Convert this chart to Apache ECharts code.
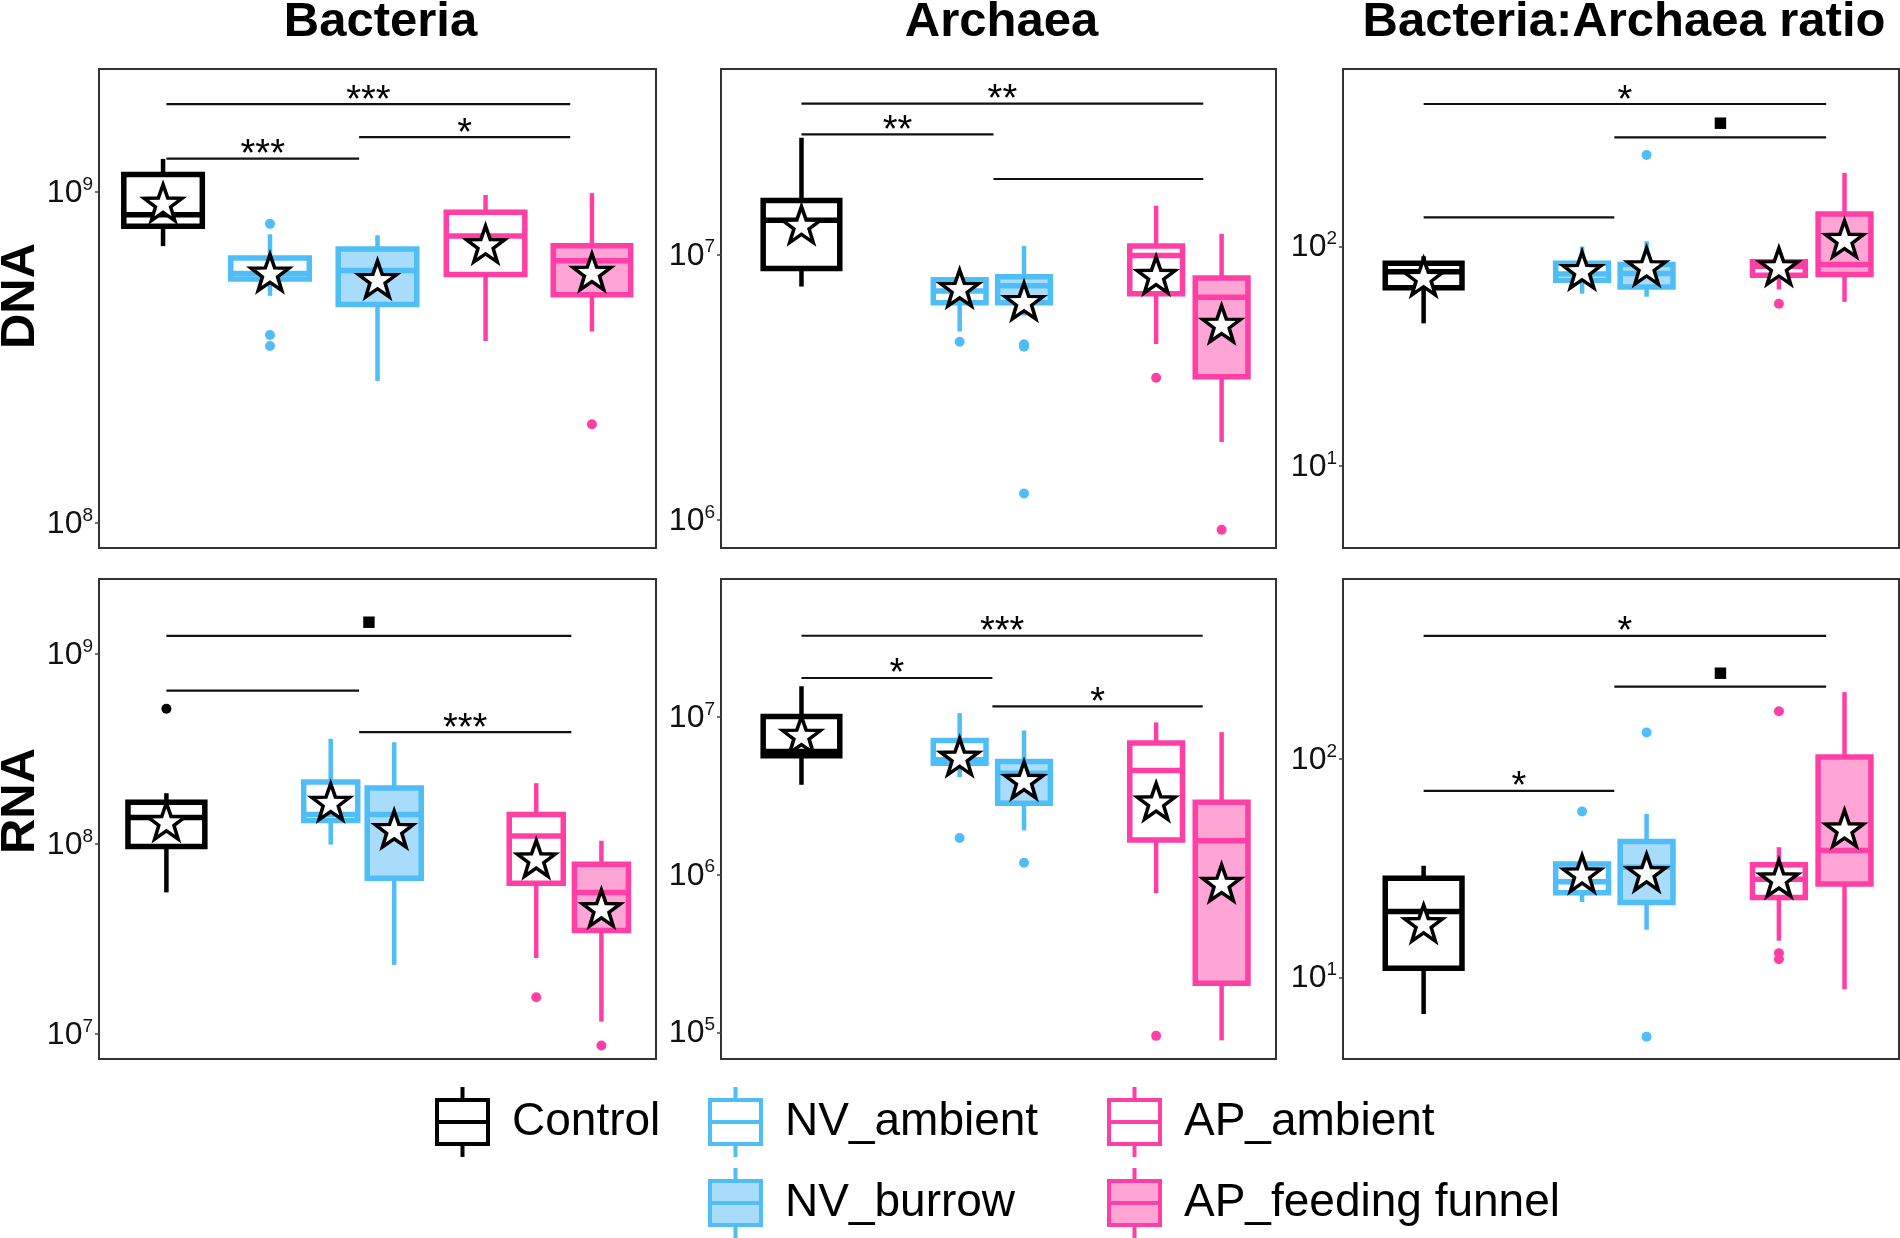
<!DOCTYPE html>
<html><head><meta charset="utf-8">
<script src="https://cdn.jsdelivr.net/npm/echarts@6/dist/echarts.min.js"></script>
<style>html,body{margin:0;padding:0;background:#fff;}#chart{width:1900px;height:1238px;}</style>
</head><body><div id="chart"></div>
<script>
// ---------------- DATA ----------------
const groups = ['Control', 'NV_ambient', 'NV_burrow', 'AP_ambient', 'AP_feeding funnel'];
const panelTitles = ['Bacteria', 'Archaea', 'Bacteria:Archaea ratio'];
const rowLabels = ['DNA', 'RNA'];

// box stats per group: [lower whisker, Q1, median, Q3, upper whisker]
const bacteriaDNA = [
  [6.87e8, 7.89e8, 8.55e8, 1.13e9, 1.26e9],
  [4.86e8, 5.47e8, 5.68e8, 6.33e8, 7.46e8],
  [2.69e8, 4.58e8, 5.80e8, 6.73e8, 7.41e8],
  [3.55e8, 5.64e8, 7.37e8, 8.70e8, 9.80e8],
  [3.79e8, 4.90e8, 6.20e8, 6.89e8, 9.93e8]
];
const bacteriaDNAMean = [9.3e8, 5.72e8, 5.47e8, 6.97e8, 5.75e8];
const bacteriaDNAOutliers = [[1, 8.02e8], [1, 3.70e8], [1, 3.43e8], [4, 1.99e8]];
const bacteriaDNASig = [[0.121, 0.846, 1.845e9], [0.467, 0.846, 1.466e9], [0.121, 0.467, 1.262e9]];
const bacteriaDNASigLabels = ['***', '*', '***'];

const archaeaDNA = [
  [7.59e6, 8.87e6, 1.35e7, 1.60e7, 2.76e7],
  [5.14e6, 6.59e6, 7.30e6, 8.05e6, 8.4e6],
  [5.9e6, 6.59e6, 7.64e6, 8.26e6, 1.08e7],
  [4.61e6, 7.13e6, 9.94e6, 1.08e7, 1.53e7],
  [1.97e6, 3.47e6, 6.92e6, 8.18e6, 1.20e7]
];
const archaeaDNAMean = [1.30e7, 7.5e6, 6.7e6, 8.4e6, 5.5e6];
const archaeaDNAOutliers = [[1, 4.70e6], [2, 4.6e6], [2, 4.5e6], [2, 1.26e6], [3, 3.44e6], [4, 9.2e5]];
const archaeaDNASig = [[0.145, 0.869, 3.71e7], [0.145, 0.491, 2.84e7], [0.491, 0.869, 1.93e7]];
const archaeaDNASigLabels = ['**', '**', ''];

const ratioDNA = [
  [44.7, 65.0, 76.9, 83.9, 90.4],
  [61.0, 70.2, 75.0, 83.9, 100],
  [59.1, 65.5, 75.5, 82.9, 105.8],
  [63.8, 74.1, 81.5, 85.4, 91],
  [56.0, 74.7, 83, 141, 217]
];
const ratioDNAMean = [72.8, 78.3, 81.5, 81.5, 108.6];
const ratioDNAOutliers = [[2, 261.6], [3, 54.9]];
const ratioDNASig = [[0.145, 0.869, 447], [0.488, 0.869, 315], [0.145, 0.488, 136]];
const ratioDNASigLabels = ['*', '■', ''];

const bacteriaRNA = [
  [5.56e7, 9.71e7, 1.38e8, 1.66e8, 1.85e8],
  [9.92e7, 1.33e8, 1.43e8, 2.12e8, 3.58e8],
  [2.31e7, 6.61e7, 1.43e8, 1.97e8, 3.43e8],
  [2.51e7, 6.22e7, 1.10e8, 1.43e8, 2.09e8],
  [1.16e7, 3.50e7, 5.56e7, 7.83e7, 1.04e8]
];
const bacteriaRNAMean = [1.32e8, 1.67e8, 1.20e8, 8.4e7, 4.6e7];
const bacteriaRNAOutliers = [[0, 5.15e8], [3, 1.56e7], [4, 8.7e6]];
const bacteriaRNASig = [[0.121, 0.848, 1.245e9], [0.121, 0.467, 6.41e8], [0.467, 0.848, 3.88e8]];
const bacteriaRNASigLabels = ['■', '', '***'];

const archaeaRNA = [
  [3.72e6, 5.68e6, 6.05e6, 1.01e7, 1.57e7],
  [4.16e6, 5.1e6, 5.36e6, 7.11e6, 1.06e7],
  [1.91e6, 2.84e6, 4.41e6, 5.23e6, 8.23e6],
  [7.63e5, 1.66e6, 4.58e6, 6.84e6, 9.25e6],
  [8.9e4, 2.05e5, 1.64e6, 2.88e6, 8.03e6]
];
const archaeaRNAMean = [7.73e6, 5.62e6, 4.0e6, 2.92e6, 8.9e5];
const archaeaRNAOutliers = [[1, 1.71e6], [2, 1.19e6], [3, 9.5e4]];
const archaeaRNASig = [[0.145, 0.868, 3.28e7], [0.145, 0.489, 1.77e7], [0.489, 0.868, 1.17e7]];
const archaeaRNASigLabels = ['***', '*', '*'];

const ratioRNA = [
  [6.79, 11.0, 20.0, 28.4, 32.4],
  [22.1, 24.4, 27.4, 33.0, 35.7],
  [16.5, 22.0, 31.9, 41.8, 56.0],
  [14.7, 23.2, 28.1, 32.7, 39.4],
  [8.81, 26.7, 38.0, 101.8, 202]
];
const ratioRNAMean = [17.7, 29.9, 30.3, 28.4, 48.1];
const ratioRNAOutliers = [[1, 57.4], [2, 132], [2, 5.35], [3, 165], [3, 12.9], [3, 12.1]];
const ratioRNASig = [[0.145, 0.869, 365], [0.488, 0.869, 214], [0.145, 0.488, 71.3]];
const ratioRNASigLabels = ['*', '■', '*'];

// tick values and axis ranges (log10 exponents)
const ticksBacteriaDNA = [1e8, 1e9];
const ticksArchaeaDNA = [1e6, 1e7];
const ticksRatioDNA = [1e1, 1e2];
const ticksBacteriaRNA = [1e7, 1e8, 1e9];
const ticksArchaeaRNA = [1e5, 1e6, 1e7];
const ticksRatioRNA = [1e1, 1e2];
const rangeBacteriaDNA = [7.925, 9.372];
const rangeArchaeaDNA = [5.895, 7.700];
const rangeRatioDNA = [0.626, 2.810];
const rangeBacteriaRNA = [6.868, 9.395];
const rangeArchaeaRNA = [4.831, 7.876];
const rangeRatioRNA = [0.626, 2.823];

// ---------------- LAYOUT / STYLE ----------------
const FONT = "'Liberation Sans', Arial, Helvetica, sans-serif";
const colors = ['#000000', '#4fbdf6', '#4fbdf6', '#ff3fa6', '#ff3fa6'];
const fills = ['#ffffff', '#ffffff', '#a9dcfa', '#ffffff', '#ffa5d5'];
const posA = [0.115, 0.307, 0.5, 0.694, 0.885];
const widA = [0.141, 0.141, 0.141, 0.141, 0.139];
const posB = [0.145, 0.430, 0.546, 0.784, 0.902];
const widB = [0.138, 0.095, 0.095, 0.095, 0.095];
const posC = [0.121, 0.416, 0.530, 0.785, 0.902];
const widC = [0.138, 0.097, 0.097, 0.097, 0.097];
const colLeft = [99, 721, 1343];
const colWidth = [557, 555, 556];
const rowTop = [69, 579];
const rowHeight = [479, 480];
const LW_BOX = 5.5;
const LW_WHISKER = 4.5;
const STAR = 'path://M50 0 L61.76 33.82 L97.55 34.55 L69.02 56.18 L79.39 90.45 L50 70 L20.61 90.45 L30.98 56.18 L2.45 34.55 L38.24 33.82 Z';

const panels = [
  {box: bacteriaDNA, mean: bacteriaDNAMean, out: bacteriaDNAOutliers, sig: bacteriaDNASig, sigLab: bacteriaDNASigLabels, ticks: ticksBacteriaDNA, range: rangeBacteriaDNA, pos: posA, wid: widA, col: 0, row: 0},
  {box: archaeaDNA, mean: archaeaDNAMean, out: archaeaDNAOutliers, sig: archaeaDNASig, sigLab: archaeaDNASigLabels, ticks: ticksArchaeaDNA, range: rangeArchaeaDNA, pos: posB, wid: widB, col: 1, row: 0},
  {box: ratioDNA, mean: ratioDNAMean, out: ratioDNAOutliers, sig: ratioDNASig, sigLab: ratioDNASigLabels, ticks: ticksRatioDNA, range: rangeRatioDNA, pos: posB, wid: widB, col: 2, row: 0},
  {box: bacteriaRNA, mean: bacteriaRNAMean, out: bacteriaRNAOutliers, sig: bacteriaRNASig, sigLab: bacteriaRNASigLabels, ticks: ticksBacteriaRNA, range: rangeBacteriaRNA, pos: posC, wid: widC, col: 0, row: 1},
  {box: archaeaRNA, mean: archaeaRNAMean, out: archaeaRNAOutliers, sig: archaeaRNASig, sigLab: archaeaRNASigLabels, ticks: ticksArchaeaRNA, range: rangeArchaeaRNA, pos: posB, wid: widB, col: 1, row: 1},
  {box: ratioRNA, mean: ratioRNAMean, out: ratioRNAOutliers, sig: ratioRNASig, sigLab: ratioRNASigLabels, ticks: ticksRatioRNA, range: rangeRatioRNA, pos: posB, wid: widB, col: 2, row: 1}
];

const grid = [], xAxis = [], yAxis = [], series = [];

panels.forEach(function (p, pi) {
  grid.push({
    left: colLeft[p.col], top: rowTop[p.row], width: colWidth[p.col], height: rowHeight[p.row],
    show: true, borderColor: '#333', borderWidth: 2, backgroundColor: 'transparent',
    containLabel: false, outerBoundsMode: 'none'
  });
  xAxis.push({type: 'value', gridIndex: pi, min: 0, max: 1, show: false});
  const ticks = p.ticks;
  yAxis.push({
    type: 'log', logBase: 10, gridIndex: pi,
    min: Math.pow(10, p.range[0]), max: Math.pow(10, p.range[1]),
    axisLine: {show: false},
    splitLine: {show: false},
    axisTick: {show: true, length: 4, lineStyle: {color: '#444', width: 1.5}, customValues: ticks},
    axisLabel: {
      customValues: ticks,
      margin: 6,
      formatter: function (v) {
        const e = Math.log10(v);
        if (Math.abs(e - Math.round(e)) > 1e-6) return '';
        return '{b|10}{s|' + Math.round(e) + '}';
      },
      rich: {
        b: {fontSize: 32, fontFamily: FONT, color: '#111', lineHeight: 34, verticalAlign: 'bottom'},
        s: {fontSize: 19, fontFamily: FONT, color: '#111', lineHeight: 34, verticalAlign: 'top'}
      }
    }
  });

  // boxes
  p.box.forEach(function (st, gi) {
    const half = p.wid[gi] / 2;
    series.push({
      type: 'custom', name: groups[gi], xAxisIndex: pi, yAxisIndex: pi, z: 2,
      itemStyle: {color: fills[gi], borderColor: colors[gi]},
      data: [[p.pos[gi], st[0], st[1], st[2], st[3], st[4]]],
      encode: {x: 0, y: [1, 2, 3, 4, 5]},
      renderItem: function (params, api) {
        const x = api.value(0);
        const pl = api.coord([x, api.value(1)]);
        const pq1 = api.coord([x, api.value(2)]);
        const pm = api.coord([x, api.value(3)]);
        const pq3 = api.coord([x, api.value(4)]);
        const ph = api.coord([x, api.value(5)]);
        const xl = api.coord([x - half, api.value(3)])[0];
        const xr = api.coord([x + half, api.value(3)])[0];
        const cx = pm[0];
        const c = colors[gi];
        return {type: 'group', children: [
          {type: 'line', shape: {x1: cx, y1: ph[1], x2: cx, y2: pq3[1]}, style: {stroke: c, lineWidth: LW_WHISKER}},
          {type: 'line', shape: {x1: cx, y1: pq1[1], x2: cx, y2: pl[1]}, style: {stroke: c, lineWidth: LW_WHISKER}},
          {type: 'rect', shape: {x: xl, y: pq3[1], width: xr - xl, height: pq1[1] - pq3[1]}, style: {fill: fills[gi], stroke: c, lineWidth: LW_BOX}},
          {type: 'line', shape: {x1: xl, y1: pm[1], x2: xr, y2: pm[1]}, style: {stroke: c, lineWidth: LW_BOX}}
        ]};
      }
    });
  });

  // outliers
  groups.forEach(function (g, gi) {
    const pts = p.out.filter(function (o) { return o[0] === gi; }).map(function (o) { return [p.pos[gi], o[1]]; });
    if (!pts.length) return;
    series.push({
      type: 'scatter', name: g, xAxisIndex: pi, yAxisIndex: pi, z: 3,
      symbol: 'circle', symbolSize: 10, data: pts,
      itemStyle: {color: colors[gi], opacity: 1}, silent: true
    });
  });

  // means (stars)
  series.push({
    type: 'scatter', name: 'mean', xAxisIndex: pi, yAxisIndex: pi, z: 5,
    symbol: STAR, symbolSize: [38, 36],
    data: p.mean.map(function (m, gi) { return [p.pos[gi], m]; }),
    itemStyle: {color: '#ffffff', borderColor: '#000000', borderWidth: 3.5, opacity: 1}, silent: true
  });

  // significance bars
  series.push({
    type: 'custom', name: 'sig', xAxisIndex: pi, yAxisIndex: pi, z: 4,
    data: p.sig,
    encode: {x: [0, 1], y: 2},
    renderItem: function (params, api) {
      const a = api.coord([api.value(0), api.value(2)]);
      const b = api.coord([api.value(1), api.value(2)]);
      const lab = p.sigLab[params.dataIndex];
      const children = [{type: 'line', shape: {x1: a[0], y1: a[1], x2: b[0], y2: b[1]}, style: {stroke: '#111', lineWidth: 2.2}}];
      if (lab === '■') {
        children.push({type: 'text', x: (a[0] + b[0]) / 2, y: a[1] - 14, style: {text: lab, fill: '#000', fontSize: 15, fontFamily: 'DejaVu Sans', align: 'center', verticalAlign: 'middle'}});
      } else if (lab) {
        children.push({type: 'text', x: (a[0] + b[0]) / 2, y: a[1] - 3, style: {text: lab, fill: '#000', fontSize: 38, fontFamily: FONT, align: 'center', verticalAlign: 'middle'}});
      }
      return {type: 'group', children: children};
    }
  });
});

// ---------------- titles / row labels ----------------
const graphic = [];
panelTitles.forEach(function (t, i) {
  graphic.push({type: 'text', x: colLeft[i] + colWidth[i] / 2 + 3, y: 22.5, style: {text: t, fill: '#000', fontSize: 49, fontWeight: 'bold', fontFamily: FONT, align: 'center', verticalAlign: 'middle'}});
});
rowLabels.forEach(function (t, i) {
  graphic.push({type: 'text', x: 20, y: i === 0 ? 296 : 801, rotation: Math.PI / 2, style: {text: t, fill: '#000', fontSize: 49, fontWeight: 'bold', fontFamily: FONT, align: 'center', verticalAlign: 'middle'}});
});

// ---------------- legend ----------------
const LEGEND_ICON = 'path://M27.5 0 L27.5 13 M2 13 L53 13 L53 57 L2 57 Z M2 35 L53 35 M27.5 57 L27.5 70';
const legendLeft = [435, 708, 708, 1107, 1107];
const legendTop = [1085, 1085, 1166, 1085, 1166];
const legend = groups.map(function (g, gi) {
  return {
    orient: 'horizontal', left: legendLeft[gi], top: legendTop[gi], padding: 0,
    itemWidth: 55, itemHeight: 70, selectedMode: false,
    textStyle: {fontSize: 46, fontFamily: FONT, color: '#000', padding: [8, 0, 0, 17]},
    data: [{name: g, icon: LEGEND_ICON, itemStyle: {color: fills[gi], borderColor: colors[gi], borderWidth: 4}}]
  };
});

const chart = echarts.init(document.getElementById('chart'), null, {renderer: 'canvas'});
chart.setOption({
  animation: false,
  backgroundColor: '#ffffff',
  grid: grid, xAxis: xAxis, yAxis: yAxis, series: series,
  legend: legend, graphic: graphic
});
</script></body></html>
